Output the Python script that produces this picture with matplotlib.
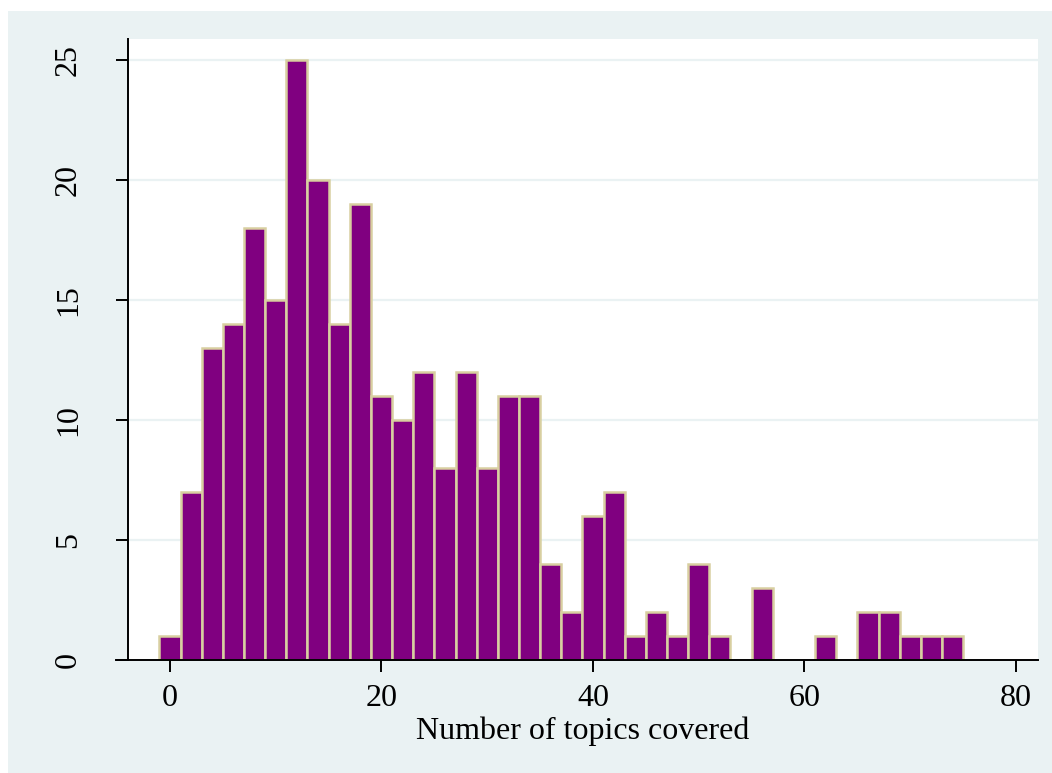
import matplotlib
matplotlib.use("Agg")
import matplotlib.pyplot as plt
from matplotlib.patches import Rectangle
from matplotlib.lines import Line2D

# Histogram bins (width 2, centred on even numbers) and their frequencies
bin_centers = [0, 2, 4, 6, 8, 10, 12, 14, 16, 18, 20, 22, 24, 26, 28, 30, 32, 34,
               36, 38, 40, 42, 44, 46, 48, 50, 52, 54, 56, 58, 60, 62, 64, 66,
               68, 70, 72, 74]
frequencies = [1, 7, 13, 14, 18, 15, 25, 20, 14, 19, 11, 10, 12, 8, 12, 8, 11, 11,
               4, 2, 6, 7, 1, 2, 1, 4, 1, 0, 3, 0, 0, 1, 0, 2,
               2, 1, 1, 1]
bin_width = 2

x_ticks = [0, 20, 40, 60, 80]
y_ticks = [0, 5, 10, 15, 20, 25]
x_label = "Number of topics covered"

BG = "#eaf2f3"
BAR = "#800080"
EDGE = "#d8cfa0"

plt.rcParams["font.family"] = ["Liberation Serif", "DejaVu Serif"]

W, H = 1052, 773
fig = plt.figure(figsize=(W / 100, H / 100), dpi=100)
fig.patch.set_facecolor("white")

# outer graph region
fig.patches.append(Rectangle((8 / W, 0), 1 - 8 / W, (H - 11) / H,
                             transform=fig.transFigure, facecolor=BG,
                             edgecolor="none", zorder=-10))

left, right, top, bottom = 128, 1038, 39, 660
ax = fig.add_axes([left / W, (H - bottom) / H, (right - left) / W, (bottom - top) / H])
ax.set_facecolor("white")

ax.set_xlim(-3.97, 82.08)
ax.set_ylim(0, 25.875)

for yt in y_ticks[1:]:
    ax.axhline(yt, color=BG, lw=1.6, zorder=1)

xs = [c for c, f in zip(bin_centers, frequencies) if f > 0]
fs = [f for f in frequencies if f > 0]
ax.bar(xs, fs, width=bin_width, color=BAR, edgecolor=EDGE, linewidth=1.8, zorder=2)

for s in ["top", "right", "bottom"]:
    ax.spines[s].set_visible(False)
ax.spines["left"].set_linewidth(1.4)
ax.spines["left"].set_color("black")

# x axis line reaches a little past the y axis
ax.add_line(Line2D([-12 / (right - left), 1], [0, 0], transform=ax.transAxes,
                   color="black", lw=1.4, clip_on=False, zorder=5))

ax.set_xticks(x_ticks)
ax.set_yticks(y_ticks)
ax.tick_params(axis="both", direction="out", length=8.5, width=1.4, colors="black",
               labelsize=23)
ax.tick_params(axis="y", pad=24, labelrotation=90)
ax.tick_params(axis="x", pad=9)
for lab in ax.get_yticklabels():
    lab.set_va("center")

ax.set_xlabel(x_label, fontsize=23, labelpad=2)

fig.savefig("out.png", dpi=100, facecolor=fig.get_facecolor())
